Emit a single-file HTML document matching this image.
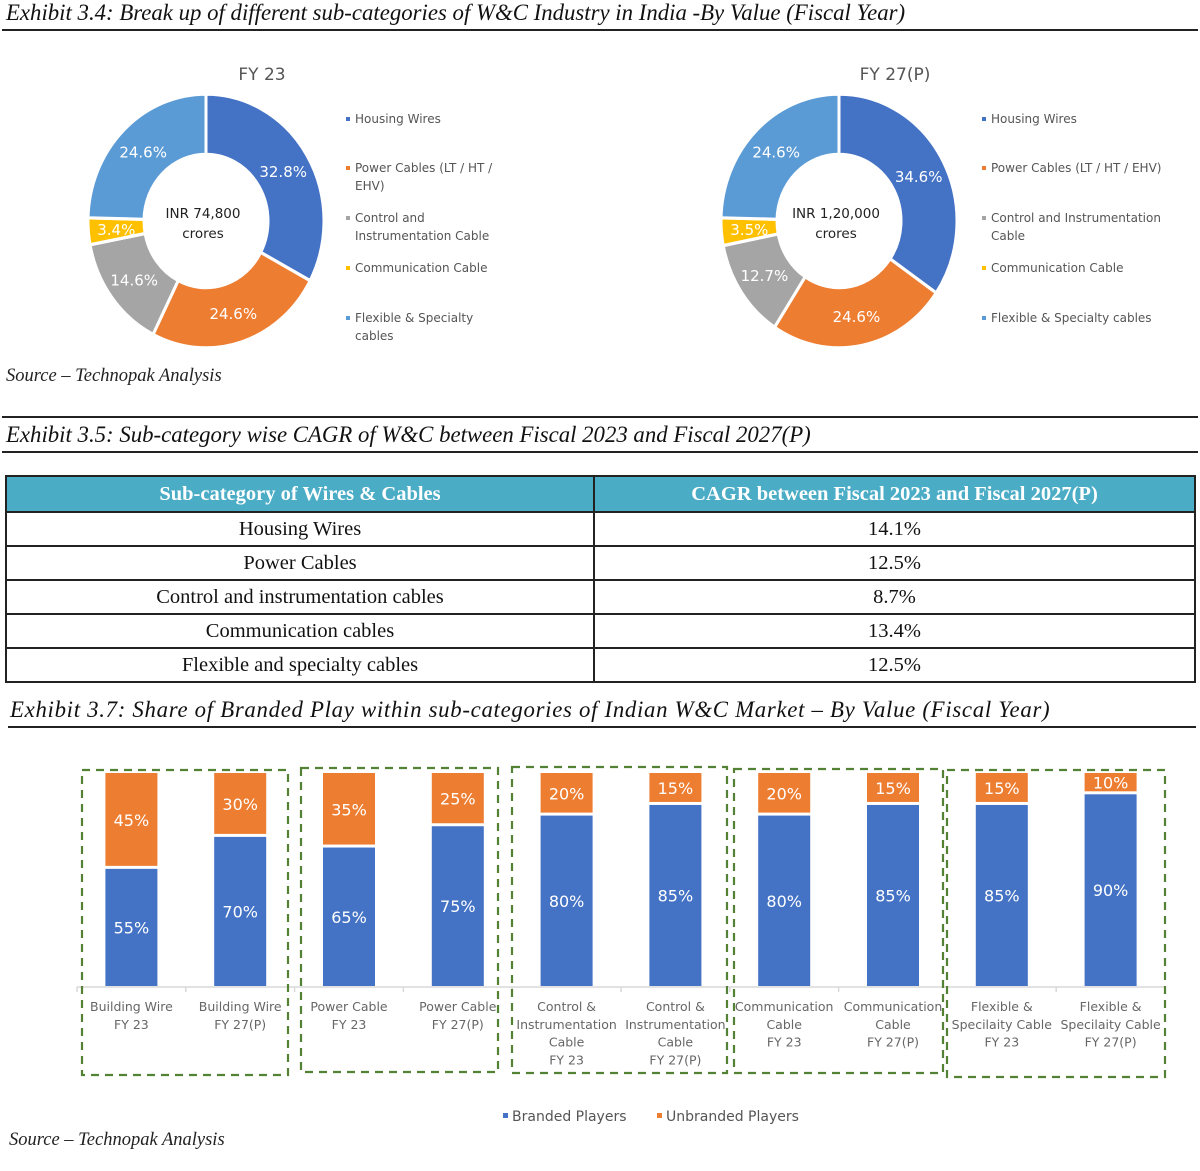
<!DOCTYPE html>
<html><head><meta charset="utf-8">
<style>
body{margin:0;background:#fff;width:1200px;height:1171px;overflow:hidden;position:relative;font-family:"Liberation Sans","DejaVu Sans",sans-serif}
.h{position:absolute;left:6px;font-family:"Liberation Serif",serif;font-style:italic;font-size:22.8px;color:#111;white-space:nowrap}
.ln{position:absolute;left:2px;width:1196px;background:#222}
.src{position:absolute;left:6px;font-family:"Liberation Serif",serif;font-style:italic;font-size:18.5px;color:#222}
table{position:absolute;left:5px;top:475px;width:1191px;border-collapse:collapse;font-family:"Liberation Serif",serif;font-size:20.5px;color:#111}
td,th{border:2px solid #222;text-align:center;height:32px;padding:0}
th{background:#4BACC6;color:#fff;font-size:20.5px;height:34px}
svg{position:absolute;left:0;top:0}
</style></head>
<body>
<div class="h" style="top:0px">Exhibit 3.4: Break up of different sub-categories of W&amp;C Industry in India -By Value (Fiscal Year)</div>
<div class="ln" style="top:29px;height:2px"></div>
<div class="src" style="top:366px">Source – Technopak Analysis</div>
<div class="ln" style="top:416px;height:2px"></div>
<div class="h" style="top:422px">Exhibit 3.5: Sub-category wise CAGR of W&amp;C between Fiscal 2023 and Fiscal 2027(P)</div>
<div class="ln" style="top:451px;height:2px"></div>
<table>
<tr><th style="width:586px">Sub-category of Wires &amp; Cables</th><th>CAGR between Fiscal 2023 and Fiscal 2027(P)</th></tr>
<tr><td>Housing Wires</td><td>14.1%</td></tr>
<tr><td>Power Cables</td><td>12.5%</td></tr>
<tr><td>Control and instrumentation cables</td><td>8.7%</td></tr>
<tr><td>Communication cables</td><td>13.4%</td></tr>
<tr><td>Flexible and specialty cables</td><td>12.5%</td></tr>
</table>
<div class="h" style="top:697px;left:10px;letter-spacing:0.7px">Exhibit 3.7: Share of Branded Play within sub-categories of Indian W&amp;C Market – By Value (Fiscal Year)</div>
<div class="ln" style="top:726px;height:2px;left:8px;width:1188px"></div>
<div class="src" style="top:1130px;left:9px">Source – Technopak Analysis</div>
<svg id="s" width="1200" height="1171"></svg>
<script>
const donutNames=["Housing Wires","Power Cables (LT / HT / EHV)","Control and Instrumentation Cable","Communication Cable","Flexible & Specialty cables"];
const fy23Values=[32.8,24.6,14.6,3.4,24.6];
const fy27Values=[34.6,24.6,12.7,3.5,24.6];
const barCategories=[["Building Wire","FY 23"],["Building Wire","FY 27(P)"],["Power Cable","FY 23"],["Power Cable","FY 27(P)"],["Control &","Instrumentation","Cable","FY 23"],["Control &","Instrumentation","Cable","FY 27(P)"],["Communication","Cable","FY 23"],["Communication","Cable","FY 27(P)"],["Flexible &","Specilaity Cable","FY 23"],["Flexible &","Specilaity Cable","FY 27(P)"]];
const brandedValues=[55,70,65,75,80,85,80,85,85,90];
const unbrandedValues=[45,30,35,25,20,15,20,15,15,10];
const colors=["#4472C4","#ED7D31","#A5A5A5","#FFC000","#5B9BD5"];
const NS="http://www.w3.org/2000/svg",S=document.getElementById('s');
function mk(t,a,p){const e=document.createElementNS(NS,t);for(const k in a)e.setAttribute(k,a[k]);(p||S).appendChild(e);return e;}
function txt(x,y,s,a,p){const e=mk('text',Object.assign({x:x,y:y,'text-anchor':'middle','font-family':'"DejaVu Sans","Liberation Sans",sans-serif'},a),p);e.textContent=s;return e;}
function donut(cx,cy,vals,title,center,legX,legLines,name){
  const g=mk('g',{transform:`translate(${cx},${cy}) scale(1,1.075)`});
  
  
  const R=118,r=62,tot=vals.reduce((a,b)=>a+b,0);let a0=0;
  vals.forEach((v,i)=>{
    const a1=a0+v/tot*2*Math.PI;
    const p=(a,rr)=>[rr*Math.sin(a),-rr*Math.cos(a)];
    const [x1,y1]=p(a0,R),[x2,y2]=p(a1,R),[x3,y3]=p(a1,r),[x4,y4]=p(a0,r);
    const lg=(a1-a0)>Math.PI?1:0;
    const s=mk('path',{d:`M${x1},${y1}A${R},${R} 0 ${lg} 1 ${x2},${y2}L${x3},${y3}A${r},${r} 0 ${lg} 0 ${x4},${y4}Z`,fill:colors[i],stroke:'#fff','stroke-width':3},g);
    
    
    const am=(a0+a1)/2,[lx,ly]=p(am,90);
    const t=txt(cx+lx,cy+ly*1.075+6,v.toFixed(1)+'%',{fill:'#fff','font-size':15});
    
    
    a0=a1;
  });
  const tt=txt(cx+56,80,title,{fill:'#555','font-size':17});
  
  
  txt(cx-3,cy-3,center[0],{fill:'#222','font-size':13.5});
  txt(cx-3,cy+17,center[1],{fill:'#222','font-size':13.5});
  const ys=[123,172,222,272,322];
  legLines.forEach((ls,i)=>{
    const m=mk('rect',{x:legX,y:ys[i]-6,width:4,height:4,fill:colors[i]});
    
    
    ls.forEach((l,j)=>{const t=txt(legX+9,ys[i]+j*18,l,{'text-anchor':'start',fill:'#555','font-size':12});
      
      });
  });
}
donut(206,221,fy23Values,'FY 23',['INR 74,800','crores'],346,[["Housing Wires"],["Power Cables (LT / HT /","EHV)"],["Control and","Instrumentation Cable"],["Communication Cable"],["Flexible & Specialty","cables"]],'donut-fy23');
donut(839,221,fy27Values,'FY 27(P)',['INR 1,20,000','crores'],982,[["Housing Wires"],["Power Cables (LT / HT / EHV)"],["Control and Instrumentation","Cable"],["Communication Cable"],["Flexible & Specialty cables"]],'donut-fy27');
// bar chart
const y0=986,y100=773,x0=77,step=108.8,bw=52;
const yS=v=>y0-(y0-y100)*v/100;
const xS=i=>x0+step*(i+0.5);
mk('line',{x1:x0,y1:y0+1,x2:x0+step*10,y2:y0+1,stroke:'#d9d9d9','stroke-width':1.5});
for(let i=0;i<=10;i++)mk('line',{x1:x0+step*i,y1:y0+1,x2:x0+step*i,y2:y0+6,stroke:'#d9d9d9','stroke-width':1.5});
brandedValues.forEach((b,i)=>{
  const u=unbrandedValues[i],cx=xS(i);
  const rb=mk('rect',{x:cx-bw/2,y:yS(b),width:bw,height:y0-yS(b),fill:'#4472C4'});
  
  
  const ru=mk('rect',{x:cx-bw/2,y:yS(b+u),width:bw,height:yS(b)-yS(b+u)-3,fill:'#ED7D31'});
  
  
  const t1=txt(cx,(yS(b)+y0)/2+6,b+'%',{fill:'#fff','font-size':16});
  
  
  const t2=txt(cx,(yS(b+u)+yS(b))/2+5,u+'%',{fill:'#fff','font-size':16});
  
  
  barCategories[i].forEach((l,j)=>{const t=txt(cx,1011+j*17.8,l,{fill:'#666','font-size':12.5});
    
    });
});
[[82,770,206,305],[301,768,197,304],[512,767,215,306],[734,769,209,304],[947,770,218,307]].forEach(b=>{
  const r=mk('rect',{x:b[0],y:b[1],width:b[2],height:b[3],fill:'none',stroke:'#548235','stroke-width':2.2,'stroke-dasharray':'8,6'});
  
  
});
[[503,'#4472C4','Branded Players'],[657,'#ED7D31','Unbranded Players']].forEach(l=>{
  const m=mk('rect',{x:l[0],y:1113,width:5,height:5,fill:l[1]});
  
  
  const t=txt(l[0]+9,1121,l[2],{'text-anchor':'start',fill:'#555','font-size':14});
  
  
});
</script>
</body></html>
